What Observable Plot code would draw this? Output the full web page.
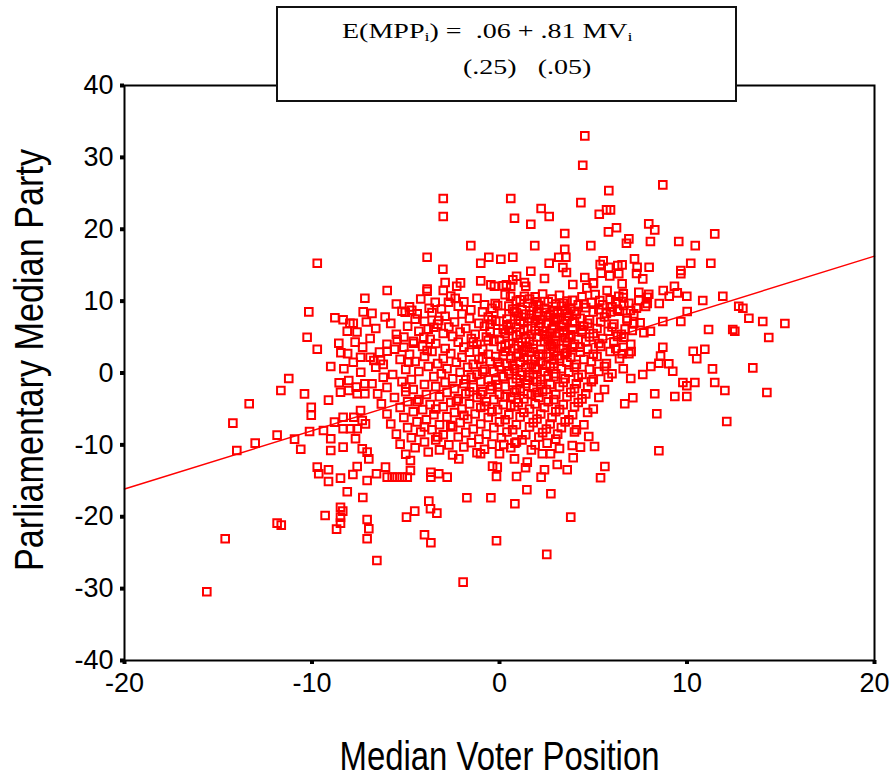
<!DOCTYPE html>
<html>
<head>
<meta charset="utf-8">
<script src="https://cdn.jsdelivr.net/npm/d3@7"></script>
<script src="https://cdn.jsdelivr.net/npm/@observablehq/plot@0.6"></script>
<style>
  html, body { margin: 0; padding: 0; background: #fff; }
  #wrap { position: relative; width: 895px; height: 779px; }
  #eq {
    position: absolute; left: 276px; top: 6px; width: 461px; height: 96px;
    box-sizing: border-box; border: 2px solid #111; background: #fff;
    font-family: "Liberation Serif", "Times New Roman", serif; font-size: 20px; color: #000;
  }
  #eq .seg { position: absolute; white-space: pre; line-height: 1; transform: scaleX(1.4); transform-origin: 0 0; }
  #eq sub { font-size: 13px; vertical-align: -3px; line-height: 0; }
</style>
</head>
<body>
<div id="wrap">
  <div id="chart"></div>
  <div id="eq"></div>
</div>
<script>
// Axis setup
const xTicks = [-20, -10, 0, 10, 20];
const yTicks = [-40, -30, -20, -10, 0, 10, 20, 30, 40];
const xTitle = "Median Voter Position";
const yTitle = "Parliamentary Median Party";

// OLS fit of the parliamentary median on the median voter (standard errors in brackets)
const fitIntercept = 0.06;
const fitSlope = 0.81;
const seIntercept = 0.25;
const seSlope = 0.05;
const fitRange = [-20, 20];

// Observations: [median voter position, parliamentary median party]
const upperTail = [
  [4.55,32.99],[4.44,28.9],[-3.0,24.27],[-3.0,21.77],[0.60,24.27],[0.80,21.53],[2.22,22.88],[2.65,21.77],
  [1.67,20.7],[5.83,25.38],[4.34,23.71],[5.71,22.7],[5.92,22.7],[5.32,22.09],[5.81,19.64],[6.24,20.2],
  [3.48,19.4],[-1.53,17.73],[1.88,17.73],[4.87,17.73],[3.48,17.22],[-3.86,16.1],[-0.57,16.1],[0.07,15.83],
  [0.71,16.1],[-1.0,15.27],[-3.02,14.44],[3.16,16.1],[3.54,16.1],[2.65,15.27],[1.67,14.16],[3.38,14.67],
  [3.57,13.98],[5.37,15.09],[5.53,15.6],[5.83,14.7],[6.31,14.95],[4.55,13.28],[5.01,12.54],[5.42,13.88],
  [5.88,13.52],[6.36,13.8],[-5.99,11.47],[-3.86,11.68],[-3.86,11.38],[-3.0,11.47],[-2.9,12.59],[-2.28,12.07],
  [-2.08,12.54],[-1.0,12.82],[-0.46,12.27],[-0.27,12.07],[0.2,12.13],[0.37,12.27],[0.6,12.07],[0.71,12.96],
  [0.91,13.46],[1.33,12.59],[1.40,12.07],[1.33,10.68],[2.4,13.14],[3.91,12.31],[4.66,11.85],[5.0,12.45],
  [0.59,10.68],[-2.72,9.85],[-2.36,10.4],[-3.43,9.85],[-3.75,9.01],[-5.03,8.46],[-4.68,8.73],[-4.39,8.23],
  [-1.53,8.79],[-0.23,9.67],[5.74,11.47],[5.35,10.08],[5.92,8.51],[6.29,8.87],[6.36,10.68]
];

const rightTail = [
  [8.71,26.17],[7.96,20.75],[8.28,19.92],[11.48,19.36],[8.05,18.29],[9.56,18.29],[10.44,17.73],[6.9,18.66],
  [6.77,18.05],[7.2,15.88],[7.34,14.72],[7.31,13.84],[7.64,13.1],[7.98,14.72],[6.54,15.05],[9.67,14.26],
  [9.67,13.8],[10.2,15.27],[11.27,15.27],[6.54,12.4],[9.33,12.07],[9.48,11.15],[8.73,11.47],[9.05,10.68],
  [9.99,10.68],[7.43,11.24],[7.96,10.96],[6.6,11.01],[10.84,10.08],[11.91,10.68],[12.76,9.29],[12.98,9.01],
  [13.3,7.62],[14.04,7.16],[15.22,6.88],[14.36,4.94],[11.15,6.05],[12.44,6.05],[12.55,5.81],[10.01,8.55],
  [9.67,7.16],[8.52,9.67],[7.88,9.67],[7.79,9.25],[8.71,7.16],[8.05,5.81],[8.71,3.59],[8.59,2.34],
  [8.5,1.36],[9.03,1.28],[8.07,0.9],[10.33,3.03],[10.52,1.98],[10.95,3.31],[7.02,2.99],[11.36,0.58],
  [13.51,0.72],[6.63,9.39],[6.99,8.69],[7.16,8.23],[6.81,7.3],[7.16,6.84],[7.08,5.91],[6.63,4.98],
  [6.6,3.59],[6.54,2.67],[7.43,10.08],[7.88,10.54],[7.0,-0.76],[7.64,-0.21],[9.24,0.25],[9.78,-1.32],
  [10.42,-1.32],[9.99,-1.78],[11.48,-1.32],[12.02,-2.43],[14.26,-2.71],[8.28,-2.89],[9.35,-3.27],[9.99,-3.27],
  [7.11,-3.45],[6.68,-4.28],[8.39,-5.67],[12.12,-6.75],[8.5,-10.82]
];

const leftTail = [
  [-9.72,15.27],[-7.18,10.40],[-10.17,8.51],[-8.78,7.68],[-8.34,7.40],[-7.98,6.93],[-7.80,6.93],[-7.27,8.51],
  [-8.12,5.81],[-10.26,4.98],[-9.72,3.31],[-8.57,4.14],[-8.46,2.81],[-7.41,2.20],[-9.0,0.90],
  [-11.24,-0.76],[-11.66,-2.43],[-10.4,-2.9],[-13.35,-4.28],[-14.22,-6.98],[-13.03,-9.76],[-14.01,-10.78],
  [-11.86,-8.65],[-10.93,-9.2],[-10.6,-10.6],[-10.13,-8.14],[-10.04,-4.76],[-10.04,-5.87],[-9.12,-3.78],
  [-9.39,-8.0],[-9.0,-9.15],[-9.0,-10.78],[-8.8,-6.84],[-8.34,-6.15],[-8.34,-10.32],[-9.72,-13.1],
  [-9.64,-14.02],[-9.12,-13.46],[-9.12,-15.09],[-8.48,-14.63],[-8.12,-16.52],[-7.82,-14.12],[-7.59,-13.0],
  [-7.29,-17.32],[-7.06,-14.95],[-9.3,-19.82],[-8.48,-18.67],[-8.36,-19.22],[-8.48,-20.06],[-8.48,-20.89],
  [-8.69,-21.72],[-7.06,-20.38],[-6.97,-21.67],[-7.06,-23.06],[-11.86,-20.89],[-11.64,-21.17],[-14.63,-23.06],
  [-15.61,-30.43],[-8.55,-1.36],[-8.04,-1.04],[-7.64,-1.97],[-7.18,-1.5],[-8.48,-2.67],[-8.04,-2.43],
  [-7.59,-2.89],[-7.18,-2.89],[-7.77,-6.15],[-7.41,-5.22],[-7.32,-6.61],[-7.15,-7.07],[-7.59,-7.76],
  [-7.95,-7.76],[-8.34,-7.76],[-7.68,-9.15],[-7.32,-10.54],[-7.06,-11.01],[-6.97,-11.94],
  [-5.46,4.66],[-5.1,3.59],[-4.57,4.14],[-5.99,3.03],[-6.7,1.74],[-6.35,1.74],[-4.84,1.5],[-4.04,4.98],
  [-3.86,3.13],[-3.5,6.37],[-3.24,7.3]
];

const lowerTail = [
  [-1.74,-17.36],[-0.46,-17.36],[0.82,-18.19],[1.46,-16.24],[2.74,-16.8],[3.8,-20.06],[-0.16,-23.34],
  [2.52,-25.24],[-1.94,-29.1],[-6.54,-26.08],[-4.96,-20.06],[-4.52,-19.22],[-3.77,-17.83],[-3.68,-18.89],
  [-3.34,-19.5],[-4.0,-22.5],[-3.66,-23.62],[-3.66,-13.8],[-3.66,-14.49],[-3.24,-14.02],[-2.79,-14.49],
  [-6.56,-14.02],[-6.08,-13.1],[-5.99,-14.49],[-5.72,-14.49],[-5.46,-14.49],[-5.19,-14.49],[-4.92,-14.49],
  [-4.75,-13.56],[-4.75,-12.17],[-2.17,-11.94],[-1.01,-11.24],[-0.16,-14.4],[-0.12,-13.1],[-0.37,-12.96],
  [0.91,-14.4],[1.39,-13.19],[1.48,-12.4],[0.8,-11.94],[0.82,-9.76],[0,-11.24],[0.23,-9.94],[2.22,-14.49],
  [2.4,-13.46],[3.08,-12.73],[3.61,-13.46],[2.54,-9.76],[2.28,-11.24],[2.72,-11.24],[3.93,-11.8],
  [3.88,-10.08],[4.32,-10.32],[5.07,-10.22],[4.76,-8.83],[5.39,-14.58],[5.62,-13.0]
];

const coreUpper = [
  [-4.2,10.3],[-2.6,10.7],[-1.2,10.4],[0.3,10.9],[1.1,10.2],[1.9,10.6],[2.3,11.0],[2.8,10.3],[3.2,10.8],[3.9,10.1],[4.4,10.6],[5.1,10.9],[5.9,10.2],[6.6,10.5],
  [-5.5,9.6],[-1.9,9.9],[-0.8,9.5],[0.9,10.0],[1.5,9.7],[2.1,9.4],[2.6,9.9],[3.0,9.6],[3.6,10.0],[4.2,9.5],[4.9,9.8],[5.5,9.5],[6.2,9.9],[6.9,9.7],
  [-4.8,9.2],[-3.1,8.9],[-2.2,9.3],[-0.4,9.0],[0.5,9.3],[1.2,8.8],[1.8,9.2],[2.4,9.0],[2.9,8.7],[3.3,9.3],[3.8,8.9],[4.6,9.1],[5.3,8.8],[6.0,9.2],[7.3,9.0],
  [-6.8,8.3],[-5.2,8.6],[-3.6,8.4],[-2.0,8.2],[-0.9,8.5],[0.1,8.3],[0.8,8.6],[1.4,8.2],[2.0,8.5],[2.7,8.1],[3.1,8.4],[3.5,8.7],[4.1,8.2],[5.0,8.5],[5.7,8.3],[6.4,8.6],
  [-6.1,7.8],[-4.5,7.5],[-2.9,7.9],[-1.6,7.6],[-0.6,7.8],[0.4,7.5],[1.0,7.9],[1.6,7.6],[2.2,7.4],[2.6,7.8],[3.0,7.5],[3.7,7.9],[4.3,7.6],[4.8,7.4],[5.6,7.8],[6.8,7.6],
  [-7.1,7.1],[-5.8,6.9],[-4.0,7.2],[-3.3,6.8],[-2.4,7.1],[-1.1,6.9],[-0.2,7.2],[0.6,6.8],[1.3,7.0],[1.9,7.3],[2.5,6.9],[2.9,7.1],[3.4,6.8],[4.0,7.2],[4.7,6.9],[5.4,7.1],[6.1,6.8],[7.5,7.0],
  [-6.6,6.2],[-4.9,6.5],[-3.8,6.1],[-2.7,6.4],[-1.8,6.2],[-0.8,6.5],[0.2,6.1],[0.9,6.4],[1.5,6.2],[2.1,6.5],[2.8,6.2],[3.3,6.4],[3.9,6.1],[4.5,6.5],[5.2,6.2],[6.0,6.4],[6.7,6.1],
  [-7.6,5.7],[-5.5,5.4],[-4.3,5.8],[-3.0,5.5],[-2.1,5.7],[-1.3,5.4],[-0.5,5.8],[0.3,5.5],[1.1,5.7],[1.7,5.4],[2.3,5.8],[2.7,5.5],[3.2,5.6],[3.8,5.3],[4.4,5.7],[5.0,5.5],[5.8,5.8],[6.5,5.4],[7.7,5.6],
  [-6.9,4.8],[-5.1,5.0],[-3.7,4.7],[-2.5,5.1],[-1.5,4.8],[-0.7,5.0],[0.0,4.7],[0.7,5.1],[1.4,4.8],[2.0,5.0],[2.6,4.7],[3.0,5.1],[3.5,4.9],[4.2,4.7],[4.8,5.0],[5.5,4.8],[6.3,5.1],
  [-7.7,4.3],[-6.0,4.0],[-4.6,4.4],[-3.4,4.1],[-2.2,4.3],[-1.2,4.0],[-0.3,4.4],[0.5,4.1],[1.2,4.3],[1.8,4.0],[2.4,4.4],[2.9,4.1],[3.6,4.3],[4.0,4.0],[4.6,4.4],[5.3,4.1],[6.1,4.3],[7.0,4.0],
  [-7.3,3.6],[-5.6,3.3],[-4.1,3.7],[-2.9,3.4],[-1.9,3.6],[-0.9,3.3],[0.1,3.7],[0.8,3.4],[1.5,3.6],[2.2,3.3],[2.8,3.7],[3.4,3.4],[3.9,3.6],[4.7,3.3],[5.4,3.7],[6.2,3.4],
  [-8.1,2.7],[-6.4,2.9],[-4.8,2.6],[-3.6,3.0],[-2.6,2.7],[-1.6,2.9],[-0.6,2.6],[0.3,3.0],[1.0,2.7],[1.6,2.9],[2.3,2.6],[2.9,3.0],[3.5,2.7],[4.3,2.9],[5.0,2.6],[5.9,3.0],[6.9,2.7],
  [-6.9,2.2],[-5.3,1.9],[-4.0,2.3],[-3.0,2.0],[-2.0,2.2],[-1.1,1.9],[-0.2,2.3],[0.6,2.0],[1.3,2.2],[1.9,1.9],[2.6,2.3],[3.2,2.0],[3.8,2.2],[4.5,1.9],[5.2,2.3],[6.4,2.0],
  [-7.8,1.5],[-6.2,1.2],[-4.5,1.6],[-3.3,1.3],[-2.3,1.5],[-1.4,1.2],[-0.5,1.6],[0.4,1.3],[1.1,1.5],[1.7,1.2],[2.2,1.6],[2.9,1.3],[3.6,1.5],[4.1,1.2],[4.9,1.6],[5.7,1.3],
  [-8.3,0.6],[-6.6,0.8],[-5.0,0.5],[-3.8,0.9],[-2.8,0.6],[-1.7,0.8],[-0.8,0.5],[0.0,0.9],[0.8,0.6],[1.4,0.8],[2.0,0.5],[2.7,0.9],[3.3,0.6],[4.0,0.8],[4.8,0.5],[5.6,0.9],[6.6,0.6]
];

const coreLower = [
  [-7.4,0.1],[-5.7,-0.2],[-4.3,0.2],[-3.1,-0.1],[-2.1,0.1],[-1.2,-0.2],[-0.3,0.2],[0.5,-0.1],[1.2,0.1],[1.8,-0.2],[2.4,0.2],[3.0,-0.1],[3.7,0.1],[4.4,-0.2],[5.3,0.2],[6.0,-0.1],
  [-6.2,-0.6],[-4.7,-0.9],[-3.5,-0.5],[-2.5,-0.8],[-1.5,-0.6],[-0.6,-0.9],[0.2,-0.5],[0.9,-0.8],[1.6,-0.6],[2.2,-0.9],[2.9,-0.5],[3.5,-0.8],[4.2,-0.6],[5.0,-0.9],[5.8,-0.6],
  [-6.8,-1.5],[-5.2,-1.2],[-4.0,-1.6],[-2.9,-1.3],[-1.9,-1.5],[-1.0,-1.2],[-0.1,-1.6],[0.7,-1.3],[1.4,-1.5],[2.0,-1.2],[2.7,-1.6],[3.4,-1.3],[4.1,-1.5],[4.9,-1.2],
  [-6.0,-2.0],[-4.6,-2.3],[-3.4,-1.9],[-2.4,-2.2],[-1.4,-2.0],[-0.5,-2.3],[0.3,-1.9],[1.1,-2.2],[1.8,-2.0],[2.5,-2.3],[3.2,-1.9],[4.0,-2.2],[4.7,-2.0],[5.6,-2.3],
  [-6.5,-2.9],[-5.0,-2.6],[-3.9,-3.0],[-2.8,-2.7],[-1.8,-2.9],[-0.9,-2.6],[0.0,-3.0],[0.8,-2.7],[1.5,-2.9],[2.3,-2.6],[3.0,-3.0],[3.8,-2.7],[4.6,-2.9],
  [-5.6,-3.4],[-4.3,-3.7],[-3.2,-3.3],[-2.2,-3.6],[-1.2,-3.4],[-0.3,-3.7],[0.6,-3.3],[1.3,-3.6],[2.1,-3.4],[2.9,-3.7],[3.6,-3.3],[4.4,-3.6],[5.3,-3.4],
  [-6.3,-4.3],[-4.9,-4.0],[-3.7,-4.4],[-2.6,-4.1],[-1.6,-4.3],[-0.7,-4.0],[0.2,-4.4],[1.0,-4.1],[1.9,-4.3],[2.6,-4.0],[3.4,-4.4],[4.2,-4.1],
  [-5.3,-4.8],[-4.1,-5.1],[-3.0,-4.7],[-2.0,-5.0],[-1.0,-4.8],[-0.1,-5.1],[0.8,-4.7],[1.6,-5.0],[2.4,-4.8],[3.2,-5.1],[4.0,-4.7],[5.0,-5.0],
  [-6.0,-5.7],[-4.6,-5.4],[-3.5,-5.8],[-2.4,-5.5],[-1.3,-5.7],[-0.4,-5.4],[0.5,-5.8],[1.3,-5.5],[2.2,-5.7],[3.0,-5.4],[3.9,-5.8],[4.7,-5.5],
  [-5.1,-6.2],[-3.9,-6.5],[-2.8,-6.1],[-1.7,-6.4],[-0.6,-6.2],[0.3,-6.5],[1.1,-6.1],[2.0,-6.4],[2.8,-6.2],[3.7,-6.5],
  [-5.8,-7.1],[-4.4,-6.8],[-3.2,-7.2],[-2.1,-6.9],[-1.0,-7.1],[0.0,-6.8],[0.9,-7.2],[1.8,-6.9],[2.7,-7.1],[3.5,-6.8],[4.5,-7.2],
  [-4.9,-7.6],[-3.6,-7.9],[-2.5,-7.5],[-1.4,-7.8],[-0.3,-7.6],[0.7,-7.9],[1.6,-7.5],[2.5,-7.8],[3.3,-7.6],[4.1,-7.9],
  [-5.5,-8.5],[-4.2,-8.2],[-3.0,-8.6],[-1.8,-8.3],[-0.7,-8.5],[0.4,-8.2],[1.4,-8.6],[2.3,-8.3],[3.1,-8.5],[4.0,-8.2],
  [-4.7,-9.0],[-3.4,-9.3],[-2.2,-8.9],[-1.1,-9.2],[0.1,-9.0],[1.2,-9.3],[2.1,-8.9],[3.0,-9.2],
  [-5.3,-9.9],[-4.0,-9.6],[-2.7,-10.0],[-1.5,-9.7],[-0.4,-9.9],[0.9,-9.6],[1.9,-10.0],
  [-4.5,-10.4],[-3.2,-10.7],[-1.9,-10.3],[-0.8,-10.6],[0.6,-10.4],[1.7,-10.7],[3.2,-10.5],
  [-5.0,-11.3],[-3.8,-11.0],[-2.5,-11.4],[-1.2,-11.1]
];

const coreDense = [
  [-0.1,9.4],[0.7,8.9],[1.6,10.3],[2.5,8.4],[3.4,9.7],[4.0,8.6],[1.1,7.2],[2.0,7.9],[2.9,6.6],[3.6,7.3],
  [0.4,6.7],[-0.4,7.4],[1.9,5.9],[2.5,5.1],[3.4,5.9],[0.9,5.3],[-0.1,5.6],[1.6,4.4],[2.7,3.9],[0.3,3.9],
  [-0.6,4.5],[1.3,3.1],[2.1,2.6],[3.1,2.4],[0.9,2.3],[-0.1,1.5],[0.7,1.0],[1.9,0.7],[2.9,1.8],[-0.9,0.2],
  [0.2,-0.5],[1.5,-1.0],[2.6,-0.4],[-1.8,-0.9],[-0.4,-1.8],[0.9,-2.4],[2.2,-1.6],[-1.0,-3.0],[0.3,-3.3],[1.7,-3.0],
  [-2.3,-3.9],[-0.8,-4.6],[0.6,-4.5],[-3.4,-5.0],[-1.9,-5.9],[-2.6,-7.3],[-4.0,-7.5],[-3.3,-8.9],[-4.4,-4.0],[-5.0,-2.0],
  [0.2,2.4],[1.0,3.8],[1.8,3.4],[2.4,5.3],[3.0,4.4],[3.7,4.9],[0.5,5.9],[1.3,6.1],[2.2,6.9],[3.1,7.7],
  [3.9,7.0],[4.4,6.0],[1.7,8.1],[2.9,8.2],[3.6,8.3],[4.5,9.6],[2.0,9.9],[0.9,8.4],[-0.5,6.8],[-1.4,4.3],
  [-0.9,2.0],[0.5,0.3],[1.5,1.9],[2.5,1.1],[3.6,2.9],[4.3,3.6],[-1.6,-2.6],[-0.2,-1.0],[1.1,-0.3],[2.0,-2.7]
];

const observations = [...upperTail, ...rightTail, ...leftTail, ...lowerTail, ...coreUpper, ...coreLower, ...coreDense];

const chart = Plot.plot({
  width: 895,
  height: 779,
  marginTop: 85,
  marginRight: 21,
  marginBottom: 119,
  marginLeft: 124,
  x: {domain: [-20, 20]},
  y: {domain: [-40, 40]},
  style: {fontFamily: '"Liberation Sans", Arial, sans-serif', background: "#fff", color: "#000", overflow: "visible"},
  marks: [
    Plot.dot(observations, {
      x: d => d[0], y: d => d[1], symbol: "square", r: 4.3,
      fill: "none", stroke: "#ff0000", strokeWidth: 2
    }),
    Plot.line(fitRange, {
      x: d => d, y: d => fitIntercept + fitSlope * d,
      stroke: "#ff0000", strokeWidth: 1.5
    }),
    Plot.frame({stroke: "#000", strokeWidth: 2}),
    Plot.axisX({ticks: xTicks, tickFormat: d => `${d}`, tickSize: 4, strokeWidth: 4, tickPadding: 8, fontSize: 27, label: null}),
    Plot.axisY({ticks: yTicks, tickFormat: d => `${d}`, tickSize: 4, strokeWidth: 4, tickPadding: 7, fontSize: 27, label: null}),
    Plot.text([xTitle], {
      frameAnchor: "bottom", dy: 109, lineAnchor: "bottom", textAnchor: "middle",
      fontSize: 40
    }),
    Plot.text([yTitle], {
      frameAnchor: "left", dx: -82, dy: -13, rotate: -90, lineAnchor: "bottom", textAnchor: "middle",
      fontSize: 40
    })
  ]
});
document.getElementById("chart").appendChild(chart);

// Axis titles are set in a condensed width
const titleWidths = new Map([[xTitle, 320], [yTitle, 422]]);
d3.select(chart).selectAll("text").each(function () {
  const w = titleWidths.get(this.textContent);
  if (w) {
    this.setAttribute("textLength", w);
    this.setAttribute("lengthAdjust", "spacingAndGlyphs");
  }
});

// Regression equation box
const fmt = v => String(v).replace(/^0(?=\.)/, "");
const eq = document.getElementById("eq");
const segments = [
  {left: 64, top: 13, html: `E(MPP<sub>i</sub>) =  ${fmt(fitIntercept)} + ${fmt(fitSlope)} MV<sub>i</sub>`},
  {left: 185, top: 49, html: `(${fmt(seIntercept)})   (${fmt(seSlope)})`}
];
for (const s of segments) {
  const el = document.createElement("div");
  el.className = "seg";
  el.style.left = s.left + "px";
  el.style.top = s.top + "px";
  el.innerHTML = s.html;
  eq.appendChild(el);
}
</script>
</body>
</html>
